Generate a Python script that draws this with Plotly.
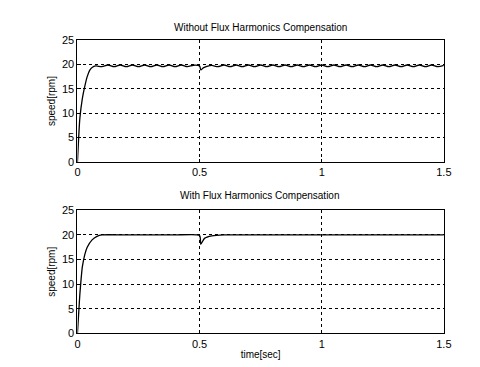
import plotly.graph_objects as go

# Top: without compensation (ripple)
t_top = [0, 0.005, 0.01, 0.02, 0.03, 0.04, 0.05, 0.06,
         0.075, 0.1, 0.125, 0.15, 0.175, 0.2, 0.225, 0.25, 0.275, 0.3,
         0.325, 0.35, 0.375, 0.4, 0.425, 0.45, 0.475, 0.5, 0.505, 0.515, 0.53,
         0.55, 0.575, 0.6, 0.625, 0.65, 0.675, 0.7, 0.725, 0.75, 0.775, 0.8,
         0.825, 0.85, 0.875, 0.9, 0.925, 0.95, 0.975, 1.0, 1.025, 1.05, 1.075,
         1.1, 1.125, 1.15, 1.175, 1.2, 1.225, 1.25, 1.275, 1.3, 1.325, 1.35,
         1.375, 1.4, 1.425, 1.45, 1.475, 1.5]
v_top = [0, 5, 9, 13, 15.5, 17.5, 18.8, 19.4,
         19.7, 19.55, 19.9, 19.55, 19.9, 19.55, 19.9, 19.55, 19.9, 19.55,
         19.9, 19.55, 19.9, 19.55, 19.9, 19.55, 19.85, 19.7, 18.9, 19.3, 19.6,
         19.8, 19.55, 19.9, 19.55, 19.9, 19.55, 19.9, 19.55, 19.9, 19.55, 19.9,
         19.55, 19.9, 19.55, 19.9, 19.55, 19.9, 19.55, 19.9, 19.55, 19.9, 19.55,
         19.9, 19.55, 19.9, 19.55, 19.9, 19.55, 19.9, 19.55, 19.9, 19.55, 19.9,
         19.55, 19.9, 19.55, 19.9, 19.55, 19.8]

# Bottom: with compensation
t_bot = [0, 0.005, 0.01, 0.015, 0.02, 0.03, 0.04, 0.06, 0.08, 0.1, 0.2,
         0.3, 0.4, 0.5, 0.505, 0.52, 0.55, 0.6, 0.8, 1.0, 1.2, 1.5]
v_bot = [0, 4, 8, 11, 13.5, 16, 17.5, 19, 19.7, 20, 20,
         20, 20, 19.9, 18.1, 19.3, 19.8, 20, 20, 20, 20, 20]

x_ticks = [0, 0.5, 1, 1.5]
x_tick_text = ["0", "0.5", "1", "1.5"]
y_ticks = [0, 5, 10, 15, 20, 25]

font = dict(family="Liberation Sans, Arial, sans-serif", size=11, color="black")

fig = go.Figure()
fig.add_trace(go.Scatter(x=t_top, y=v_top, mode="lines", line=dict(color="black", width=1.3, shape="spline", smoothing=0.8),
                         xaxis="x", yaxis="y", showlegend=False))
fig.add_trace(go.Scatter(x=t_bot, y=v_bot, mode="lines", line=dict(color="black", width=1.3, shape="spline", smoothing=0.6),
                         xaxis="x2", yaxis="y2", showlegend=False))

ax_common = dict(showline=True, linecolor="black", linewidth=1.2, mirror=True,
                 showgrid=True, gridcolor="black", gridwidth=1, griddash="3px,3px",
                 zeroline=False, ticks="inside", ticklen=3, tickcolor="black",
                 tickfont=font)

xd = [68/480, 443/480]
fig.update_layout(
    width=480, height=367, margin=dict(l=0, r=0, t=0, b=0),
    paper_bgcolor="white", plot_bgcolor="white", font=font,
    xaxis=dict(domain=xd, range=[0, 1.5], tickvals=x_ticks, ticktext=x_tick_text, anchor="y", **ax_common),
    yaxis=dict(domain=[1-153/367, 1-27/367], range=[0, 25], tickvals=y_ticks, anchor="x",
               title=dict(text="speed[rpm]", font=dict(size=10), standoff=4), **ax_common),
    xaxis2=dict(domain=xd, range=[0, 1.5], tickvals=x_ticks, ticktext=x_tick_text, anchor="y2",
                title=dict(text="time[sec]", font=dict(size=10), standoff=2), **ax_common),
    yaxis2=dict(domain=[1-330/367, 1-203/367], range=[0, 25], tickvals=y_ticks, anchor="x2",
                title=dict(text="speed[rpm]", font=dict(size=10), standoff=4), **ax_common),
    annotations=[
        dict(text="Without Flux Harmonics Compensation", x=255/480, y=1-14/367, xref="paper", yref="paper",
             showarrow=False, font=dict(size=10, family=font["family"]), xanchor="center", yanchor="middle"),
        dict(text="With Flux Harmonics Compensation", x=255/480, y=1-188/367, xref="paper", yref="paper",
             showarrow=False, font=dict(size=10, family=font["family"]), xanchor="center", yanchor="middle"),
    ],
)

fig.write_html("out.html")
